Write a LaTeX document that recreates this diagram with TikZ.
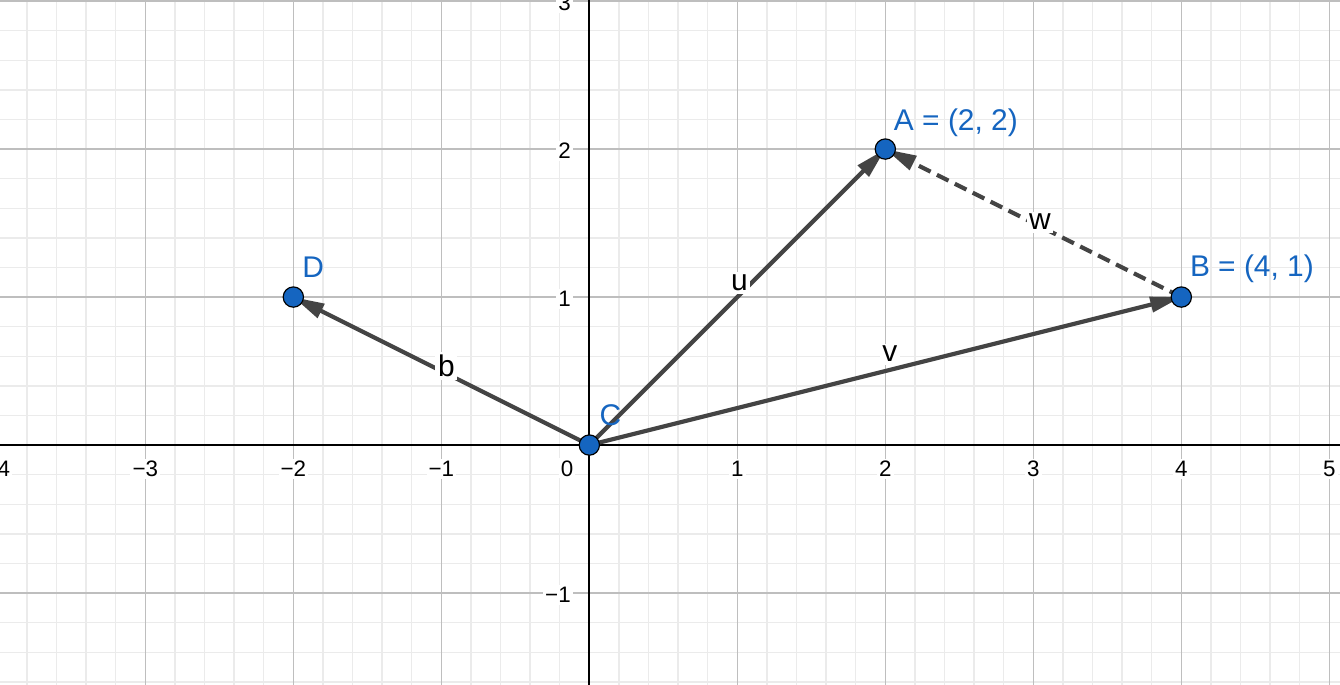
\documentclass[tikz,border=0pt]{standalone}
\usepackage{fontspec}
\setmainfont{Liberation Sans}
\usetikzlibrary{arrows.meta}
\definecolor{ggblue}{HTML}{1565C0}
\definecolor{vecgray}{HTML}{444444}
\definecolor{majorgrid}{HTML}{BEBEBE}
\definecolor{minorgrid}{HTML}{EBEBEB}
\begin{document}
\begin{tikzpicture}[x=2cm,y=2cm,
  ptnode/.style={circle,fill=ggblue,draw=black,line width=0.45pt,minimum size=7.8pt,inner sep=0pt},
  ptlabel/.style={text=ggblue,font=\fontsize{11.5}{13}\selectfont,inner sep=0pt,anchor=base west},
  vecline/.style={draw=vecgray,line width=1.6pt,-{Triangle[length=12pt,width=5.8pt]}},
  veclabel/.style={fill=white,inner sep=1pt,font=\fontsize{11.5}{13}\selectfont},
  ticklabel/.style={fill=white,inner sep=0.8pt,font=\fontsize{8.6}{10}\selectfont}]
\useasboundingbox (-3.982,-1.615) rectangle (5.072,3.007);
\begin{scope}
\clip (-3.982,-1.615) rectangle (5.072,3.007);
\fill[white] (-3.982,-1.615) rectangle (5.072,3.007);
% grid
\draw[minorgrid,line width=0.5pt,step=0.2] (-4.2,-1.8) grid (5.2,3.2);
\draw[majorgrid,line width=0.55pt,step=1] (-4.2,-1.8) grid (5.2,3.2);
% axes
\draw[black,line width=0.65pt] (-4.2,0) -- (5.2,0);
\draw[black,line width=0.65pt] (0,-1.8) -- (0,3.2);
% x tick labels
\foreach \k/\t in {-4/−4,-3/−3,-2/−2,-1/−1,1/1,2/2,3/3,4/4,5/5}
  \node[ticklabel] (xt\k) at (\k,-0.162) {\t};
\node[ticklabel] (xt0) at (-0.151,-0.158) {0};
% y tick labels
\foreach \k/\t in {-1/−1,1/1,2/2,3/3}
  \node[ticklabel,anchor=east] (yt\k) at (-0.108,\k-0.013) {\t};
% coordinates
\coordinate (cA) at (2,2);
\coordinate (cB) at (4,1);
\coordinate (cC) at (0,0);
\coordinate (cD) at (-2,1);
% vectors
\draw[vecline] (cC) -- (cA);
\draw[vecline] (cC) -- (cB);
\draw[vecline] (cC) -- (cD);
\draw[vecline,dash pattern=on 5pt off 2.7pt] (cB) -- (cA);
% vector labels
\node[veclabel] (lu) at (1.014,1.095) {u};
\node[veclabel] (lv) at (2.03,0.615) {v};
\node[veclabel] (lw) at (3.045,1.507) {w};
\node[veclabel] (lb) at (-0.966,0.534) {b};
% points
\node[ptnode] (A) at (cA) {};
\node[ptnode] (B) at (cB) {};
\node[ptnode] (C) at (cC) {};
\node[ptnode] (D) at (cD) {};
% point labels
\node[ptlabel] (Alab) at ([shift={(0.055,0.128)}]cA) {A = (2, 2)};
\node[ptlabel] (Blab) at ([shift={(0.055,0.142)}]cB) {B = (4, 1)};
\node[ptlabel] (Clab) at ([shift={(0.066,0.135)}]cC) {C};
\node[ptlabel] (Dlab) at ([shift={(0.058,0.135)}]cD) {D};
\end{scope}
\end{tikzpicture}
\end{document}
